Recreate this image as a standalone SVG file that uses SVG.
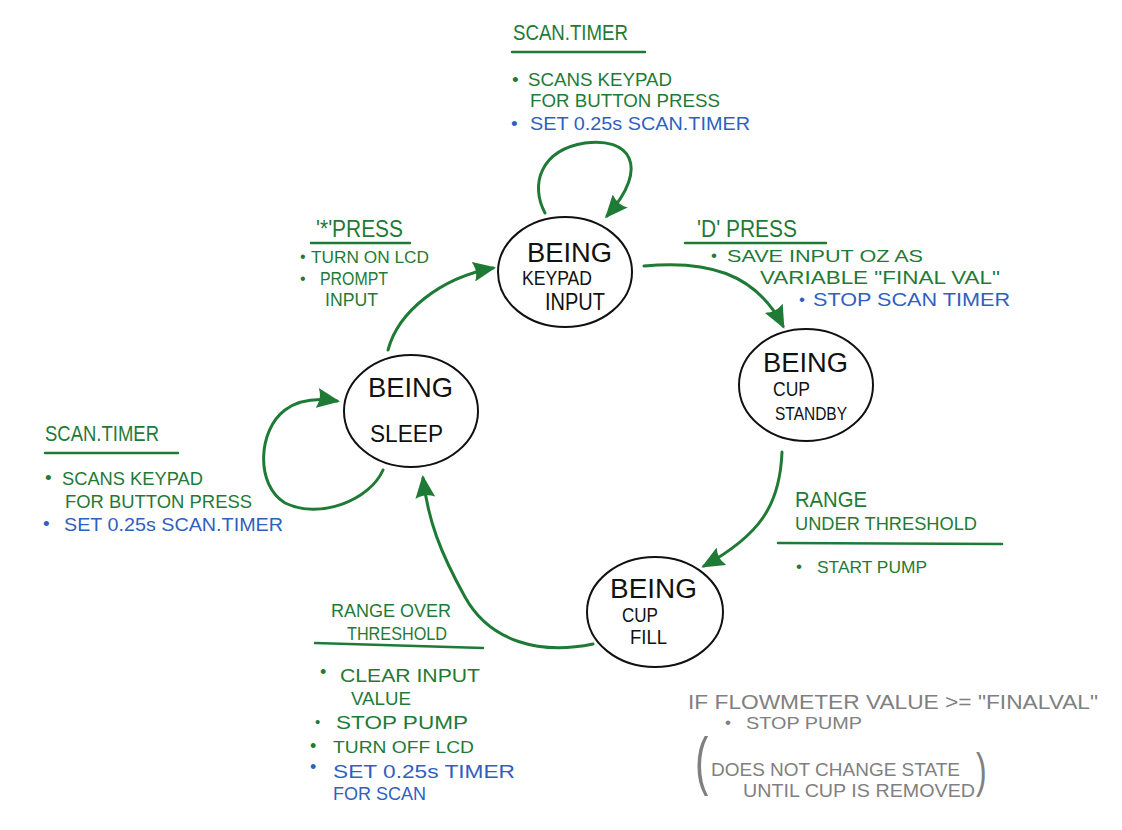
<svg xmlns="http://www.w3.org/2000/svg" width="1122" height="830" viewBox="0 0 1122 830">
<defs>
<style>
.node{fill:#fff;stroke:#111;stroke-width:2}
.nt{font-family:"Liberation Sans",Arial,sans-serif;fill:#111}
.g{font-family:"Liberation Sans",Arial,sans-serif;fill:#1f7a36}
.b{font-family:"Liberation Sans",Arial,sans-serif;fill:#2f5fbf}
.gr{font-family:"Liberation Sans",Arial,sans-serif;fill:#808080}
.ul{stroke:#1f7a36;stroke-width:2.5;fill:none;stroke-linecap:round}
.edge{fill:none;stroke:#1f7a36;stroke-width:3;stroke-linecap:round;marker-end:url(#ah)}
</style>
<marker id="ah" markerUnits="userSpaceOnUse" markerWidth="24" markerHeight="20" viewBox="0 0 24 20" refX="20" refY="10" orient="auto">
<path d="M0,0 L23,10 L0,20 Q5,10 0,0 z" fill="#1f7a36"/>
</marker>
</defs>
<rect width="1122" height="830" fill="#fff"/>

<g id="connectors">
<path class="edge" d="M545,213 C530,185 540,150 585,143 C628,137 652,165 607,216"/>
<path class="edge" d="M644,266 C705,260 755,272 783,326"/>
<path class="edge" d="M782,452 C780,505 760,535 704,566"/>
<path class="edge" d="M593,644 C540,655 490,642 465,597 C440,552 428,520 423,478"/>
<path class="edge" d="M388,350 C398,312 440,278 493,268"/>
<path class="edge" d="M383,470 C370,500 320,520 285,503 C255,485 258,430 285,410 C300,399 318,398 337,401"/>
</g>

<g id="node-keypad-input">
<ellipse class="node" cx="565" cy="272" rx="67" ry="55"/>
<text class="nt" x="527" y="262" font-size="27" textLength="85" lengthAdjust="spacingAndGlyphs">BEING</text>
<text class="nt" x="522" y="285" font-size="20" textLength="70" lengthAdjust="spacingAndGlyphs">KEYPAD</text>
<text class="nt" x="545" y="310" font-size="24" textLength="60" lengthAdjust="spacingAndGlyphs">INPUT</text>
</g>

<g id="node-cup-standby">
<ellipse class="node" cx="806" cy="385" rx="67" ry="56"/>
<text class="nt" x="763" y="372" font-size="27" textLength="85" lengthAdjust="spacingAndGlyphs">BEING</text>
<text class="nt" x="773" y="396" font-size="20" textLength="37" lengthAdjust="spacingAndGlyphs">CUP</text>
<text class="nt" x="775" y="420" font-size="18" textLength="72" lengthAdjust="spacingAndGlyphs">STANDBY</text>
</g>

<g id="node-sleep">
<ellipse class="node" cx="411" cy="411" rx="67" ry="56"/>
<text class="nt" x="368" y="397" font-size="28" textLength="85" lengthAdjust="spacingAndGlyphs">BEING</text>
<text class="nt" x="370" y="442" font-size="23" textLength="73" lengthAdjust="spacingAndGlyphs">SLEEP</text>
</g>

<g id="node-cup-fill">
<ellipse class="node" cx="655" cy="612" rx="68" ry="55"/>
<text class="nt" x="610" y="598" font-size="27" textLength="87" lengthAdjust="spacingAndGlyphs">BEING</text>
<text class="nt" x="622" y="622" font-size="21" textLength="36" lengthAdjust="spacingAndGlyphs">CUP</text>
<text class="nt" x="630" y="644" font-size="20" textLength="37" lengthAdjust="spacingAndGlyphs">FILL</text>
</g>

<g id="label-top-scan-timer">
<text class="g" x="513" y="40" font-size="22" textLength="115" lengthAdjust="spacingAndGlyphs">SCAN.TIMER</text>
<line class="ul" x1="512" y1="52" x2="645" y2="52"/>
<text class="g" x="512" y="86" font-size="19">•</text>
<text class="g" x="528" y="86" font-size="19" textLength="144" lengthAdjust="spacingAndGlyphs">SCANS KEYPAD</text>
<text class="g" x="530" y="107" font-size="19" textLength="190" lengthAdjust="spacingAndGlyphs">FOR BUTTON PRESS</text>
<text class="b" x="511" y="130" font-size="19">•</text>
<text class="b" x="530" y="130" font-size="19" textLength="220" lengthAdjust="spacingAndGlyphs">SET 0.25s SCAN.TIMER</text>
</g>

<g id="label-star-press">
<text class="g" x="316" y="237" font-size="24" textLength="87" lengthAdjust="spacingAndGlyphs">'*'PRESS</text>
<line class="ul" x1="311" y1="243" x2="410" y2="243"/>
<text class="g" x="300" y="262" font-size="16">•</text>
<text class="g" x="311" y="263" font-size="17" textLength="118" lengthAdjust="spacingAndGlyphs">TURN ON LCD</text>
<text class="g" x="300" y="284" font-size="16">•</text>
<text class="g" x="320" y="285" font-size="18" textLength="68" lengthAdjust="spacingAndGlyphs">PROMPT</text>
<text class="g" x="325" y="306" font-size="18" textLength="53" lengthAdjust="spacingAndGlyphs">INPUT</text>
</g>

<g id="label-d-press">
<text class="g" x="697" y="237" font-size="24" textLength="100" lengthAdjust="spacingAndGlyphs">'D' PRESS</text>
<line class="ul" x1="685" y1="243" x2="826" y2="243"/>
<text class="g" x="711" y="261" font-size="17">•</text>
<text class="g" x="727" y="262" font-size="17" textLength="196" lengthAdjust="spacingAndGlyphs">SAVE INPUT OZ AS</text>
<text class="g" x="760" y="284" font-size="18" textLength="240" lengthAdjust="spacingAndGlyphs">VARIABLE "FINAL VAL"</text>
<text class="b" x="799" y="305" font-size="17">•</text>
<text class="b" x="813" y="306" font-size="18" textLength="197" lengthAdjust="spacingAndGlyphs">STOP SCAN TIMER</text>
</g>

<g id="label-left-scan-timer">
<text class="g" x="45" y="441" font-size="22" textLength="114" lengthAdjust="spacingAndGlyphs">SCAN.TIMER</text>
<line class="ul" x1="45" y1="453" x2="178" y2="453"/>
<text class="g" x="45" y="484" font-size="19">•</text>
<text class="g" x="62" y="485" font-size="19" textLength="141" lengthAdjust="spacingAndGlyphs">SCANS KEYPAD</text>
<text class="g" x="65" y="508" font-size="19" textLength="187" lengthAdjust="spacingAndGlyphs">FOR BUTTON PRESS</text>
<text class="b" x="43" y="530" font-size="19">•</text>
<text class="b" x="64" y="531" font-size="19" textLength="219" lengthAdjust="spacingAndGlyphs">SET 0.25s SCAN.TIMER</text>
</g>

<g id="label-range-under">
<text class="g" x="795" y="507" font-size="22" textLength="72" lengthAdjust="spacingAndGlyphs">RANGE</text>
<text class="g" x="795" y="530" font-size="19" textLength="182" lengthAdjust="spacingAndGlyphs">UNDER THRESHOLD</text>
<line class="ul" x1="778" y1="543" x2="1002" y2="544"/>
<text class="g" x="796" y="572" font-size="17">•</text>
<text class="g" x="817" y="573" font-size="17" textLength="110" lengthAdjust="spacingAndGlyphs">START PUMP</text>
</g>

<g id="label-range-over">
<text class="g" x="331" y="617" font-size="19" textLength="120" lengthAdjust="spacingAndGlyphs">RANGE OVER</text>
<text class="g" x="347" y="640" font-size="18" textLength="100" lengthAdjust="spacingAndGlyphs">THRESHOLD</text>
<line class="ul" x1="315" y1="643" x2="483" y2="648"/>
<text class="g" x="320" y="678" font-size="18">•</text>
<text class="g" x="340" y="682" font-size="19" textLength="140" lengthAdjust="spacingAndGlyphs">CLEAR INPUT</text>
<text class="g" x="351" y="705" font-size="19" textLength="60" lengthAdjust="spacingAndGlyphs">VALUE</text>
<text class="g" x="315" y="727" font-size="15">•</text>
<text class="g" x="336" y="729" font-size="19" textLength="132" lengthAdjust="spacingAndGlyphs">STOP PUMP</text>
<text class="g" x="310" y="752" font-size="18">•</text>
<text class="g" x="333" y="753" font-size="17" textLength="141" lengthAdjust="spacingAndGlyphs">TURN OFF LCD</text>
<text class="b" x="310" y="773" font-size="18">•</text>
<text class="b" x="333" y="778" font-size="19" textLength="182" lengthAdjust="spacingAndGlyphs">SET 0.25s TIMER</text>
<text class="b" x="333" y="800" font-size="19" textLength="93" lengthAdjust="spacingAndGlyphs">FOR SCAN</text>
</g>

<g id="note-flowmeter">
<text class="gr" x="688" y="709" font-size="21" textLength="410" lengthAdjust="spacingAndGlyphs">IF FLOWMETER VALUE &gt;= "FINALVAL"</text>
<text class="gr" x="725" y="728" font-size="17">•</text>
<text class="gr" x="746" y="729" font-size="17" textLength="116" lengthAdjust="spacingAndGlyphs">STOP PUMP</text>
<text class="gr" font-size="40" transform="translate(695,783) scale(1,1.6)">(</text>
<text class="gr" x="711" y="776" font-size="18" textLength="249" lengthAdjust="spacingAndGlyphs">DOES NOT CHANGE STATE</text>
<text class="gr" x="743" y="797" font-size="18" textLength="232" lengthAdjust="spacingAndGlyphs">UNTIL CUP IS REMOVED</text>
<text class="gr" font-size="32" transform="translate(976,787) scale(1,1.5)">)</text>
</g>
</svg>
